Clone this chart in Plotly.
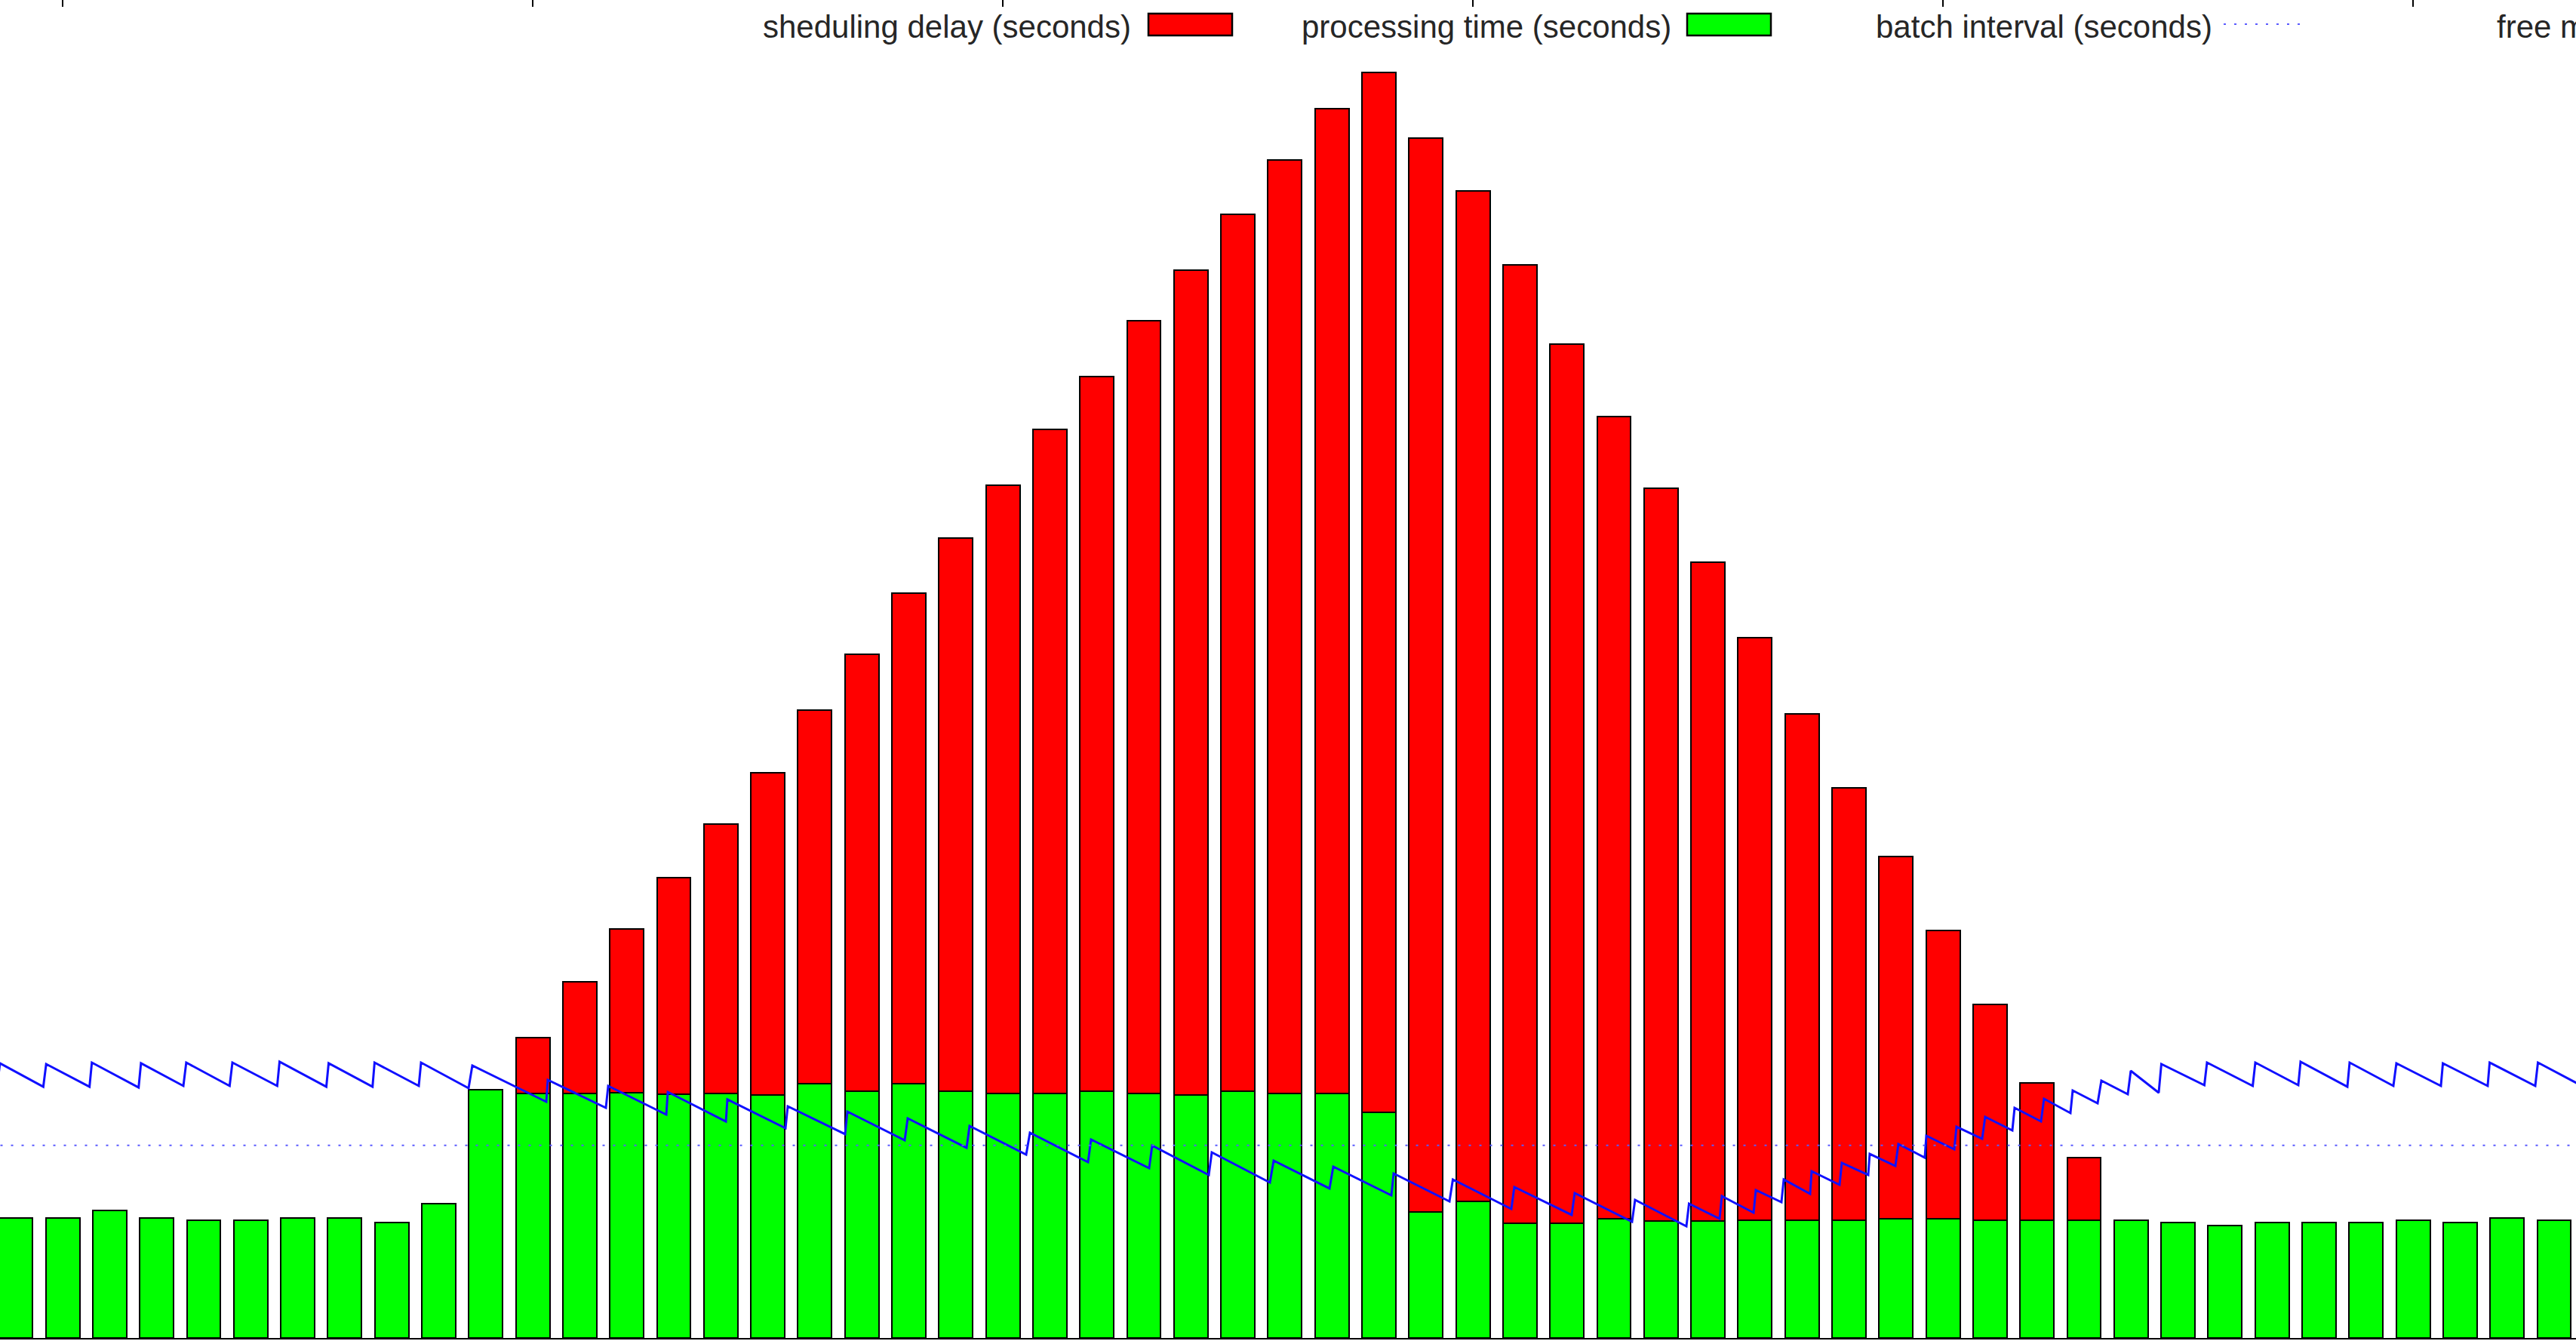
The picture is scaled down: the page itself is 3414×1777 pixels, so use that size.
import plotly.graph_objects as go

# ---- data -------------------------------------------------------------
# start time of every batch (seconds), one batch per second
batch_time = list(range(9, 64))

# processing time of each batch (seconds)
processing_time = [
    0.624, 0.624, 0.663, 0.624, 0.613, 0.611, 0.624, 0.624, 0.600, 0.696,
    1.290, 1.270, 1.270, 1.273, 1.264, 1.270, 1.261, 1.322, 1.283, 1.319,
    1.281, 1.270, 1.270, 1.281, 1.270, 1.260, 1.281, 1.270, 1.270, 1.172,
    0.656, 0.709, 0.595, 0.595, 0.621, 0.608, 0.608, 0.611, 0.611, 0.611,
    0.620, 0.620, 0.611, 0.611, 0.611, 0.611, 0.598, 0.585, 0.598, 0.598,
    0.598, 0.611, 0.598, 0.624, 0.611,
]

# scheduling delay of each batch (seconds)
scheduling_delay = [
    0, 0, 0, 0, 0, 0, 0, 0, 0, 0,
    0, 0.291, 0.581, 0.852, 1.125, 1.400, 1.674, 1.937, 2.266, 2.547,
    2.874, 3.159, 3.449, 3.710, 4.011, 4.286, 4.555, 4.848, 5.112, 5.398,
    5.573, 5.247, 4.977, 4.567, 4.165, 3.802, 3.419, 3.024, 2.631, 2.247,
    1.880, 1.496, 1.121, 0.715, 0.327, 0, 0, 0, 0, 0,
    0, 0, 0, 0, 0,
]

batch_interval = 1.0

# free memory samples (time in seconds, value in MB)
mem_time = [
    8.602, 8.666, 9.587, 9.648, 10.570, 10.620, 11.615, 11.665, 12.567, 12.628,
    13.551, 13.610, 14.563, 14.613, 15.608, 15.657, 16.591, 16.634, 17.575, 17.623,
    18.634, 18.714, 20.287, 20.319, 21.555, 21.604, 22.840, 22.872, 24.108, 24.140,
    25.376, 25.424, 26.644, 26.692, 27.912, 27.976, 29.228, 29.292, 30.496, 30.576,
    31.812, 31.876, 33.112, 33.177, 34.381, 34.445, 35.681, 35.761, 36.949, 37.029,
    38.265, 38.313, 39.501, 39.573, 40.817, 40.881, 42.101, 42.165, 43.385, 43.449,
    44.541, 44.597, 45.247, 45.295, 45.970, 46.018, 46.563, 46.612, 47.173, 47.205,
    47.799, 47.848, 48.409, 48.441, 48.987, 49.051, 49.613, 49.645, 50.239, 50.287,
    50.833, 50.897, 51.475, 51.523, 52.085, 52.149, 52.711, 52.759, 53.289, 53.369,
    53.931, 53.995, 54.589, 54.645, 55.560, 55.616, 56.589, 56.644, 57.558, 57.607,
    58.602, 58.650, 59.581, 59.645, 60.592, 60.634, 61.587, 61.629, 62.599, 62.656,
    63.594,
]
free_memory = [
    375.6, 410.6, 375.6, 409.5, 375.6, 411.7, 374.5, 410.6, 376.8, 411.7,
    376.8, 411.7, 376.8, 412.9, 375.6, 410.6, 375.6, 411.7, 376.8, 411.7,
    373.4, 407.2, 353.1, 385.8, 344.0, 376.8, 333.9, 367.7, 323.7, 356.5,
    313.6, 346.3, 304.6, 338.4, 295.5, 328.3, 284.3, 317.0, 274.1, 306.8,
    262.8, 296.7, 253.8, 287.6, 243.7, 277.5, 232.4, 265.1, 223.4, 256.1,
    213.2, 245.9, 204.2, 236.9, 192.9, 225.6, 183.9, 216.6, 173.7, 206.4,
    166.9, 200.8, 178.2, 212.1, 187.3, 221.1, 203.0, 236.9, 215.5, 249.3,
    229.0, 261.7, 243.7, 275.2, 257.2, 289.9, 269.6, 302.3, 282.0, 315.8,
    297.8, 330.5, 310.2, 344.0, 323.7, 357.6, 336.2, 370.0, 350.8, 384.7,
    364.4, 399.3, 366.6, 409.5, 377.9, 411.7, 376.8, 411.7, 377.9, 412.9,
    375.6, 411.7, 376.8, 410.6, 376.8, 410.6, 376.8, 411.7, 376.8, 411.7,
    376.8,
]

series_names = [
    "sheduling delay (seconds)",
    "processing time (seconds)",
    "batch interval (seconds)",
    "free memory (MB)",
]

# ---- figure -----------------------------------------------------------
W, H = 3414, 1777
MARGIN_B = 4
PLOT_H = H - MARGIN_B
X_RANGE = [8.666, 63.466]
Y_RANGE = [0, 6.947]
Y2_RANGE = [0, 2000]

BAR_LINE = dict(color="black", width=2.5)

fig = go.Figure()

fig.add_trace(go.Bar(
    x=batch_time, y=processing_time, name=series_names[1],
    width=0.72, marker=dict(color="#00ff00", line=BAR_LINE),
))
fig.add_trace(go.Bar(
    x=batch_time, y=scheduling_delay, name=series_names[0],
    width=0.72, marker=dict(color="#ff0000", line=BAR_LINE),
))
fig.add_trace(go.Scatter(
    x=[batch_time[0] - 1, batch_time[-1] + 1],
    y=[batch_interval, batch_interval],
    name=series_names[2], mode="lines", xaxis="x2",
    line=dict(color="rgb(90,90,255)", width=2, dash="3px,11px"),
))
fig.add_trace(go.Scatter(
    x=mem_time, y=free_memory, name=series_names[3], mode="lines",
    yaxis="y2", line=dict(color="#1010ff", width=3),
))


def px_x(p):
    return p / W


def px_y(p):
    return 1 - p / PLOT_H


# key along the top edge: text followed by its sample
FONT = dict(family="Liberation Sans, Arial, sans-serif", size=42, color="#262626")
text_mid = px_y(35.5)
annotations = [
    dict(text=series_names[0], x=px_x(1501), xanchor="right"),
    dict(text=series_names[1], x=px_x(2217), xanchor="right"),
    dict(text=series_names[2], x=px_x(2934), xanchor="right"),
    dict(text=series_names[3], x=px_x(3307), xanchor="left"),
]
for a in annotations:
    a.update(xref="paper", yref="paper", y=text_mid, yanchor="middle",
             showarrow=False, font=FONT)

shapes = [
    dict(type="rect", xref="paper", yref="paper",
         x0=px_x(1522), x1=px_x(1633), y0=px_y(47), y1=px_y(18),
         fillcolor="#ff0000", line=dict(color="black", width=2.5)),
    dict(type="rect", xref="paper", yref="paper",
         x0=px_x(2236), x1=px_x(2347), y0=px_y(47), y1=px_y(18),
         fillcolor="#00ff00", line=dict(color="black", width=2.5)),
    dict(type="line", xref="paper", yref="paper",
         x0=px_x(2947), x1=px_x(3054), y0=px_y(32), y1=px_y(32),
         line=dict(color="rgb(90,90,255)", width=2, dash="3px,11px")),
]

fig.update_layout(
    width=W, height=H,
    margin=dict(l=0, r=0, t=0, b=MARGIN_B, pad=0),
    paper_bgcolor="white", plot_bgcolor="white",
    barmode="stack", bargap=0, showlegend=False,
    annotations=annotations, shapes=shapes,
    xaxis=dict(range=X_RANGE, showgrid=False, zeroline=False,
               showticklabels=False, ticks="", showline=True,
               linecolor="black", linewidth=2),
    xaxis2=dict(range=X_RANGE, overlaying="x", side="top", showgrid=False,
                zeroline=False, showticklabels=False, showline=False,
                tickmode="array", tickvals=list(range(10, 70, 10)),
                ticks="inside", ticklen=9, tickwidth=2, tickcolor="black"),
    yaxis=dict(range=Y_RANGE, showgrid=False, zeroline=False,
               showticklabels=False, ticks="", showline=False),
    yaxis2=dict(range=Y2_RANGE, overlaying="y", side="right",
                showgrid=False, zeroline=False, showticklabels=False,
                ticks="", showline=False),
    font=FONT,
)

fig.write_html("out.html", config={"displayModeBar": False})
